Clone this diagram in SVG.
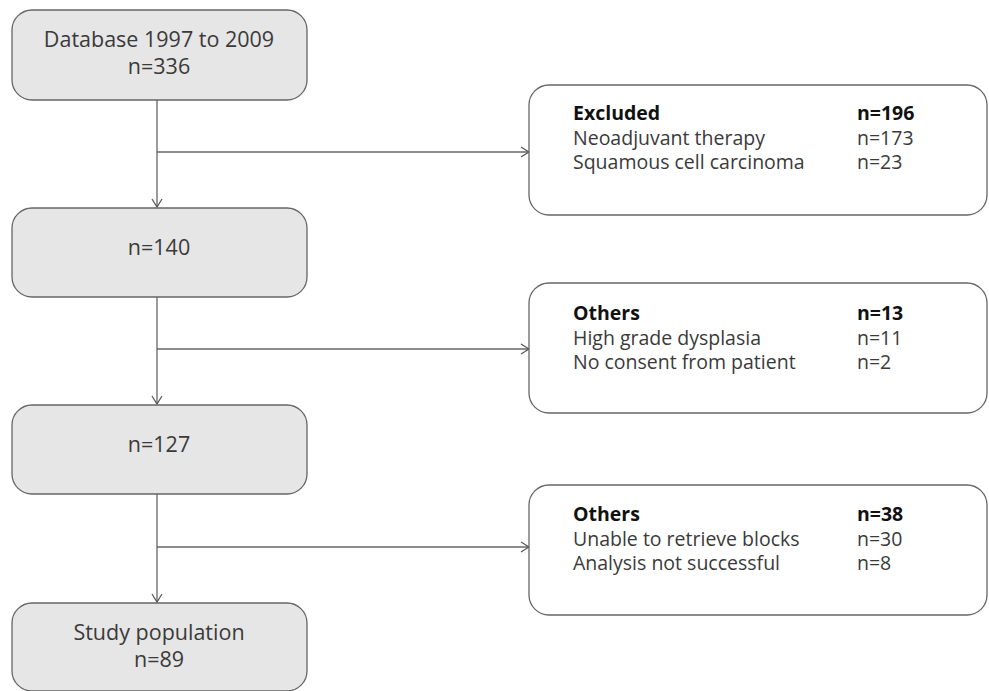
<svg xmlns="http://www.w3.org/2000/svg" width="989" height="691" viewBox="0 0 989 691">
<defs>
<marker id="arr" markerWidth="12" markerHeight="12" refX="10" refY="6" orient="auto" markerUnits="userSpaceOnUse">
<path d="M2,1 L10,6 L2,11" fill="none" stroke="#555" stroke-width="1.2"/>
</marker>
<style>
.grey{fill:#e6e6e6;stroke:#666;stroke-width:1.3}
.white{fill:#fff;stroke:#666;stroke-width:1.3}
text{font-family:"Open Sans","Noto Sans","Liberation Sans",sans-serif;font-size:19.5px;fill:#3a3a3a}
.c{text-anchor:middle;font-size:21.5px}
.b{font-weight:bold;fill:#111}
.ln{fill:none;stroke:#666;stroke-width:1.3}
</style>
</defs>
<rect width="989" height="691" fill="#fff"/>
<g id="connectors">
<line class="ln" x1="157" y1="100" x2="157" y2="207" marker-end="url(#arr)"/>
<line class="ln" x1="157" y1="152" x2="529" y2="152" marker-end="url(#arr)"/>
<line class="ln" x1="157" y1="297" x2="157" y2="404" marker-end="url(#arr)"/>
<line class="ln" x1="157" y1="349" x2="529" y2="349" marker-end="url(#arr)"/>
<line class="ln" x1="157" y1="494" x2="157" y2="602" marker-end="url(#arr)"/>
<line class="ln" x1="157" y1="547" x2="529" y2="547" marker-end="url(#arr)"/>
</g>
<g id="n1">
<rect class="grey" x="12" y="10" width="295" height="90" rx="20"/>
<text class="c" x="159" y="47">Database 1997 to 2009<tspan x="159" dy="27">n=336</tspan></text>
</g>
<g id="n2">
<rect class="grey" x="12" y="208" width="295" height="89" rx="20"/>
<text class="c" x="159" y="255">n=140</text>
</g>
<g id="n3">
<rect class="grey" x="12" y="405" width="295" height="89" rx="20"/>
<text class="c" x="159" y="452">n=127</text>
</g>
<g id="n4">
<rect class="grey" x="12" y="603" width="295" height="88" rx="20"/>
<text class="c" x="159" y="640">Study population<tspan x="159" dy="27">n=89</tspan></text>
</g>
<g id="e1">
<rect class="white" x="529" y="85" width="458" height="130" rx="20"/>
<text x="573" y="120"><tspan class="b">Excluded</tspan><tspan x="573" dy="24.5">Neoadjuvant therapy</tspan><tspan x="573" dy="24.5">Squamous cell carcinoma</tspan></text>
<text x="857" y="120"><tspan class="b">n=196</tspan><tspan x="857" dy="24.5">n=173</tspan><tspan x="857" dy="24.5">n=23</tspan></text>
</g>
<g id="e2">
<rect class="white" x="529" y="283" width="458" height="130" rx="20"/>
<text x="573" y="320"><tspan class="b">Others</tspan><tspan x="573" dy="24.5">High grade dysplasia</tspan><tspan x="573" dy="24.5">No consent from patient</tspan></text>
<text x="857" y="320"><tspan class="b">n=13</tspan><tspan x="857" dy="24.5">n=11</tspan><tspan x="857" dy="24.5">n=2</tspan></text>
</g>
<g id="e3">
<rect class="white" x="529" y="485" width="458" height="130" rx="20"/>
<text x="573" y="521"><tspan class="b">Others</tspan><tspan x="573" dy="24.5">Unable to retrieve blocks</tspan><tspan x="573" dy="24.5">Analysis not successful</tspan></text>
<text x="857" y="521"><tspan class="b">n=38</tspan><tspan x="857" dy="24.5">n=30</tspan><tspan x="857" dy="24.5">n=8</tspan></text>
</g>
</svg>
